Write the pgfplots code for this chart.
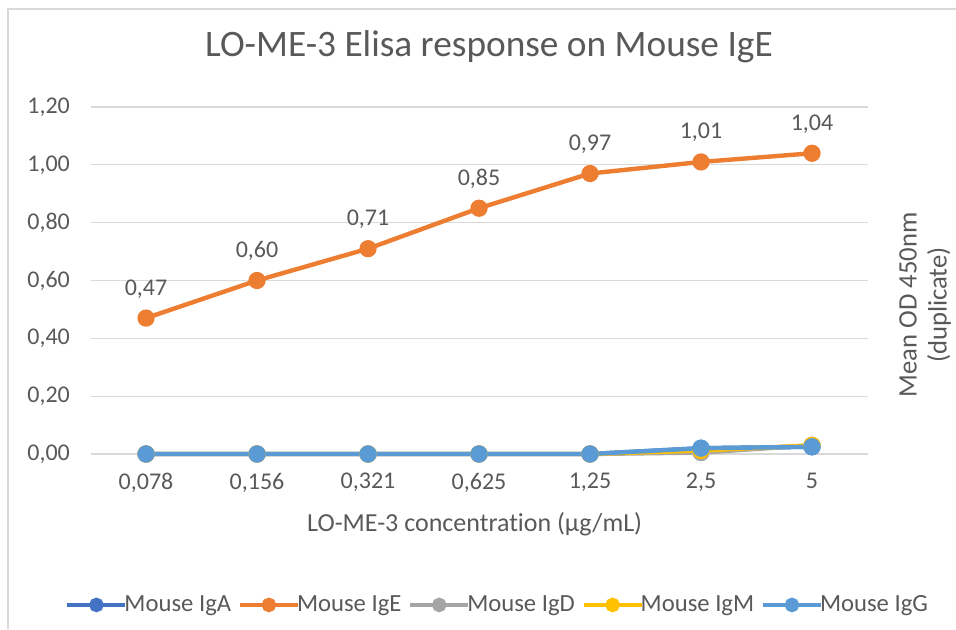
\documentclass[border=0pt]{standalone}
\usepackage{pgfplots}
\pgfplotsset{compat=1.18}
\usepackage{fontspec}
\setmainfont{Carlito}[Ligatures=NoCommon]
\definecolor{txt}{HTML}{595959}
\definecolor{gridc}{HTML}{D9D9D9}
\definecolor{cA}{HTML}{4472C4}
\definecolor{cE}{HTML}{ED7D31}
\definecolor{cD}{HTML}{A5A5A5}
\definecolor{cM}{HTML}{FFC000}
\definecolor{cG}{HTML}{5B9BD5}
\begin{document}
\begin{tikzpicture}
\path[use as bounding box] (0,0) rectangle (717pt,471.75pt);
\draw[gridc, line width=1.2pt] (6pt,0) -- (6pt,465pt) -- (717pt,465pt);
\begin{axis}[
  at={(67.9pt,131.25pt)}, anchor=south west,
  scale only axis, width=582.75pt, height=260.25pt,
  xmin=-0.5, xmax=6.5, ymin=0, ymax=1.2,
  xtick={0,...,6},
  xticklabels={0{,}078,0{,}156,0{,}321,0{,}625,1{,}25,2{,}5,5},
  ytick={0,0.2,...,1.2},
  yticklabel style={/pgf/number format/use comma, /pgf/number format/fixed, /pgf/number format/fixed zerofill, /pgf/number format/precision=2, xshift=-12pt},
  /pgf/number format/assume math mode=true,
  tick label style={font=\fontsize{18}{20}\selectfont, text=txt},
  axis line style={draw=none},
  major tick length=0pt,
  ymajorgrids, grid style={gridc, line width=0.9pt},
  xticklabel style={yshift=-11pt},
  clip=false,
  legend columns=5,
  legend style={at={(0.5225,-0.435)}, anchor=center, draw=none, fill=none,
    font=\fontsize{18.5}{20}\selectfont, text=txt,
    nodes={inner xsep=0pt},
    /tikz/every odd column/.append style={column sep=-2.5pt},
    /tikz/every even column/.append style={column sep=4.8pt}},
  legend image code/.code={
    \draw[#1, mark=none, line width=3.6pt] (0pt,0pt) -- (43.5pt,0pt);
    \draw[#1, only marks, mark size=3.8pt] plot coordinates {(21.75pt,0pt)};},
  every axis plot/.append style={line width=3.3pt, mark=*, mark size=4.8pt},
]
\addplot[cA, mark options={fill=cA}] coordinates {(0,0) (1,0) (2,0) (3,0) (4,0) (5,0.02) (6,0.025)};
\addlegendentry{Mouse IgA}
\addplot[cE, mark options={fill=cE},
  nodes near coords, point meta=explicit symbolic,
  every node near coord/.append style={font=\fontsize{18}{20}\selectfont, text=txt, anchor=south, yshift=10pt}]
  coordinates {(0,0.47)[0,47] (1,0.60)[0,60] (2,0.71)[0,71] (3,0.85)[0,85] (4,0.97)[0,97] (5,1.01)[1,01] (6,1.04)[1,04]};
\addlegendentry{Mouse IgE}
\addplot[cD, mark options={fill=cD}] coordinates {(0,0) (1,0) (2,0) (3,0) (4,0) (5,0.005) (6,0.03)};
\addlegendentry{Mouse IgD}
\addplot[cM, mark options={fill=cM}] coordinates {(0,0) (1,0) (2,0) (3,0) (4,0) (5,0.012) (6,0.03)};
\addlegendentry{Mouse IgM}
\addplot[cG, mark options={fill=cG}] coordinates {(0,0) (1,0) (2,0) (3,0) (4,0) (5,0.02) (6,0.025)};
\addlegendentry{Mouse IgG}
\end{axis}
\node[text=txt, font=\fontsize{28}{32}\selectfont] at (366.75pt,436.5pt) {LO-ME-3 Elisa response on Mouse IgE};
\node[text=txt, font=\fontsize{19.5}{21}\selectfont] at (356pt,78.75pt) {LO-ME-3 concentration (µg/mL)};
\node[text=txt, font=\fontsize{20}{22.5}\selectfont, rotate=90, align=center] at (693.75pt,243pt) {Mean OD 450nm\\(duplicate)};
\end{tikzpicture}
\end{document}
